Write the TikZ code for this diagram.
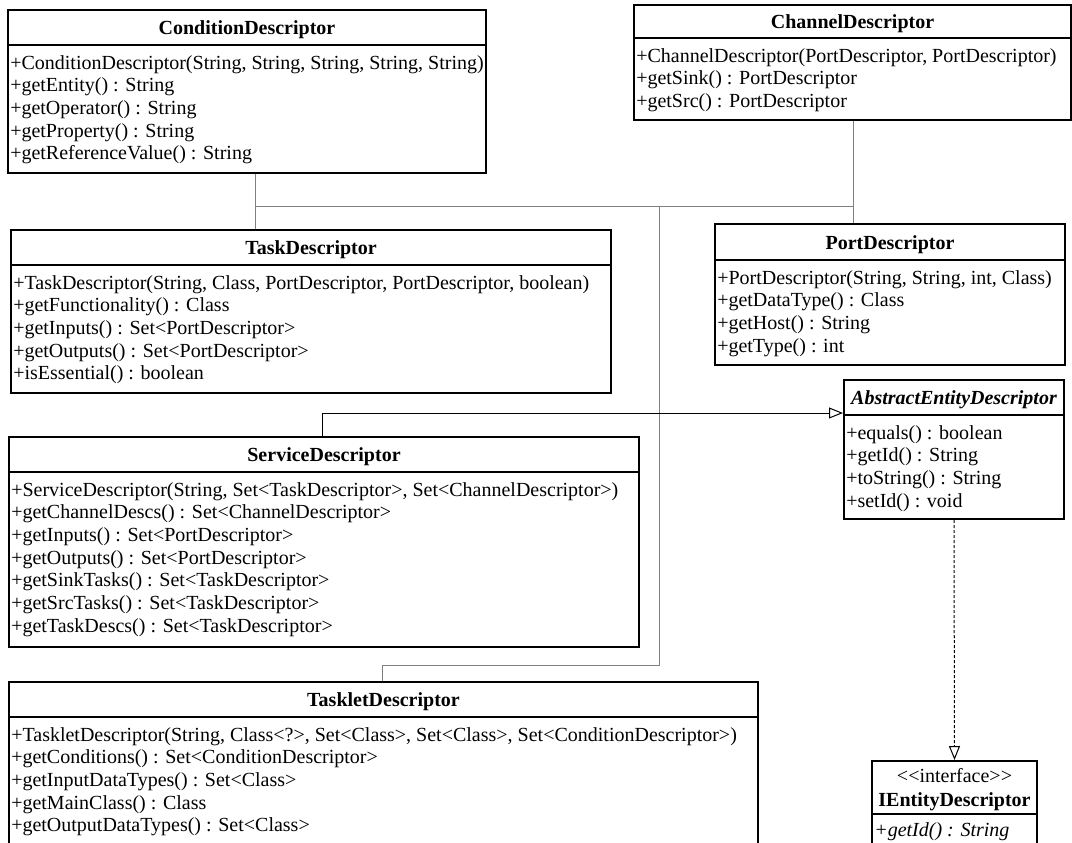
\documentclass[tikz,border=0pt]{standalone}
\usepackage{fontspec}
\setmainfont{Liberation Serif}
\usetikzlibrary{arrows.meta}

% member rows of a class box: #1 box name, #2 offset of the first baseline, #3 rows
\newcommand\classrows[3]{%
  \foreach \t [count=\i] in {#3} {
    \path (#1.north west) ++(3,{#2+22.7*(\i-1)}) node[member] (#1-m\i) {\t};
  }}

\begin{document}
\begin{tikzpicture}[x=0.75pt,y=-0.75pt,
  font=\fontsize{15}{18}\selectfont,
  classbox/.style 2 args={draw=black, line width=1.5pt, fill=white, rectangle,
    inner sep=0pt, anchor=north west,
    minimum width=#1*0.75pt, minimum height=#2*0.75pt},
  sepline/.style={draw=black, line width=1.5pt},
  classtitle/.style={font=\fontsize{15}{18}\selectfont\bfseries, inner sep=0pt, anchor=base},
  member/.style={inner sep=0pt, anchor=base west},
  assoc/.style={draw=black!50, line width=0.75pt},
  gen/.style={draw=black, line width=0.75pt,
    -{Triangle[open, length=10.5pt, width=8.25pt, line width=0.75pt]}},
  real/.style={gen, dash pattern=on 2.25pt off 1.5pt}]

\useasboundingbox (0,0) rectangle (1072,843);
\clip (0,0) rectangle (1072,843);
\fill[white] (0,0) rectangle (1072,843);

% junctions of the association lines
\coordinate (jL) at (255,206);
\coordinate (jM) at (659,206);
\coordinate (jR) at (853,206);
\coordinate (bendA) at (659,665);
\coordinate (bendB) at (382,665);
\coordinate (sbend) at (322,413);

% ---------- class boxes ----------
\node[classbox={478}{163}] (cond) at (7,9) {};
\node[classbox={437}{115}] (chan) at (633,4) {};
\node[classbox={600}{163}] (task) at (10,229) {};
\node[classbox={350}{141}] (port) at (714,223) {};
\node[classbox={220}{139}] (abs) at (843,379) {};
\node[classbox={630}{210}] (serv) at (8,436) {};
\node[classbox={749}{190}] (tasklet) at (8,681) {};
\node[classbox={165}{130}] (ient) at (871,760) {};

% association lines
\draw[assoc] (cond.south -| jL) -- (task.north -| jL);
\draw[assoc] (jL) -- (jR);
\draw[assoc] (chan.south -| jR) -- (port.north -| jR);
\draw[assoc] (jM) -- (bendA) -- (bendB) -- (tasklet.north -| bendB);

% compartment separators
\draw[sepline] (cond.north west) ++(0,36) -- ++(478,0);
\draw[sepline] (chan.north west) ++(0,34) -- ++(437,0);
\draw[sepline] (task.north west) ++(0,36) -- ++(600,0);
\draw[sepline] (port.north west) ++(0,37) -- ++(350,0);
\draw[sepline] (abs.north west) ++(0,36) -- ++(220,0);
\draw[sepline] (serv.north west) ++(0,36) -- ++(630,0);
\draw[sepline] (tasklet.north west) ++(0,36) -- ++(749,0);
\draw[sepline] (ient.north west) ++(0,54) -- ++(165,0);

% class names
\path (cond.north) ++(0,25) node[classtitle] (cond-title) {ConditionDescriptor};
\path (chan.north) ++(0,24) node[classtitle] (chan-title) {ChannelDescriptor};
\path (task.north) ++(0,25) node[classtitle] (task-title) {TaskDescriptor};
\path (port.north) ++(0,26) node[classtitle] (port-title) {PortDescriptor};
\path (abs.north) ++(0,25) node[classtitle, font=\fontsize{15}{18}\selectfont\bfseries\itshape] (abs-title) {AbstractEntityDescriptor};
\path (serv.north) ++(0,25) node[classtitle] (serv-title) {ServiceDescriptor};
\path (tasklet.north) ++(0,25) node[classtitle] (tasklet-title) {TaskletDescriptor};
\path (ient.north) ++(0,22) node[classtitle, font=\fontsize{15}{18}\selectfont] (ient-stereo) {<\kern0pt<interface>\kern0pt>};
\path (ient.north) ++(0,46) node[classtitle] (ient-title) {IEntityDescriptor};

% members
\classrows{cond}{60}{{+ConditionDescriptor(String, String, String, String, String)},
  {+getEntity() : String}, {+getOperator() : String}, {+getProperty() : String},
  {+getReferenceValue() : String}}
\classrows{chan}{58}{{+ChannelDescriptor(PortDescriptor, PortDescriptor)},
  {+getSink() : PortDescriptor}, {+getSrc() : PortDescriptor}}
\classrows{task}{60}{{+TaskDescriptor(String, Class, PortDescriptor, PortDescriptor, boolean)},
  {+getFunctionality() : Class}, {+getInputs() : Set<PortDescriptor>},
  {+getOutputs() : Set<PortDescriptor>}, {+isEssential() : boolean}}
\classrows{port}{61}{{+PortDescriptor(String, String, int, Class)},
  {+getDataType() : Class}, {+getHost() : String}, {+getType() : int}}
\classrows{abs}{60}{{+equals() : boolean}, {+getId() : String},
  {+toString() : String}, {+setId() : void}}
\classrows{serv}{60}{{+ServiceDescriptor(String, Set<TaskDescriptor>, Set<ChannelDescriptor>)},
  {+getChannelDescs() : Set<ChannelDescriptor>}, {+getInputs() : Set<PortDescriptor>},
  {+getOutputs() : Set<PortDescriptor>}, {+getSinkTasks() : Set<TaskDescriptor>},
  {+getSrcTasks() : Set<TaskDescriptor>}, {+getTaskDescs() : Set<TaskDescriptor>}}
\classrows{tasklet}{60}{{+TaskletDescriptor(String, Class<?>, Set<Class>, Set<Class>, Set<ConditionDescriptor>)},
  {+getConditions() : Set<ConditionDescriptor>}, {+getInputDataTypes() : Set<Class>},
  {+getMainClass() : Class}, {+getOutputDataTypes() : Set<Class>}}
\path (ient.north west) ++(3,76) node[member] (ient-m1) {\itshape +getId() : String};

% generalization and realization
\draw[gen] (serv.north -| sbend) -- (sbend) -- (abs.west |- sbend);
\draw[real] (abs.south) -- (ient.north);

\end{tikzpicture}
\end{document}
